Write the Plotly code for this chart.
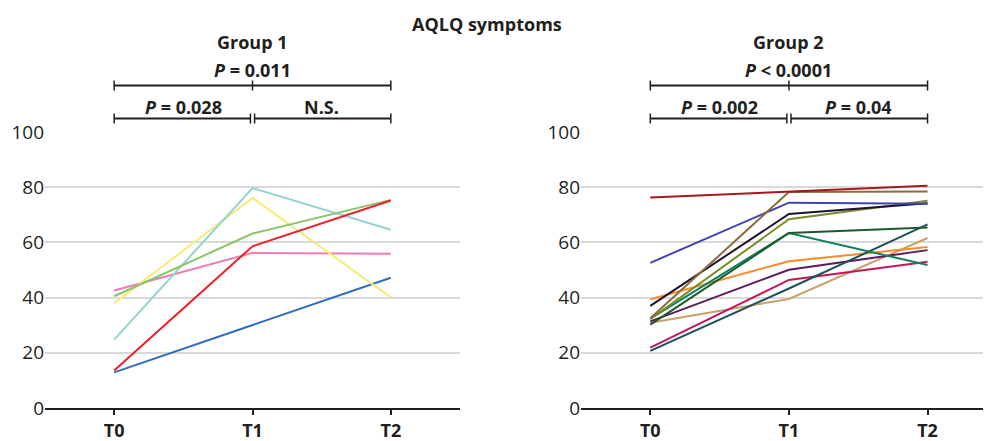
import plotly.graph_objects as go

timepoints = ["T0", "T1", "T2"]

# Group 1 patients
g1_names = ["P1", "P2", "P3", "P4", "P5", "P6"]
g1_values = [
    [12.9, 30.0, 47.2],
    [42.6, 56.2, 55.9],
    [38.0, 76.1, 40.1],
    [24.8, 79.7, 64.6],
    [40.5, 63.2, 75.4],
    [13.6, 58.6, 75.2],
]
g1_colors = ["#2f6ebe", "#f07cb4", "#f5ec78", "#93d3d0", "#8cc46a", "#ee2026"]

# Group 2 patients
g2_names = ["Q1", "Q2", "Q3", "Q4", "Q5", "Q6", "Q7", "Q8", "Q9", "Q10", "Q11", "Q12"]
g2_values = [
    [30.9, 39.5, 61.6],
    [21.9, 46.4, 53.0],
    [31.4, 50.1, 57.2],
    [39.4, 53.2, 58.3],
    [20.7, 43.3, 66.5],
    [32.4, 63.4, 51.8],
    [30.2, 63.4, 65.4],
    [32.2, 68.4, 75.1],
    [37.0, 70.3, 74.2],
    [52.6, 74.4, 74.0],
    [32.5, 78.3, 78.4],
    [76.3, 78.3, 80.5],
]
g2_colors = ["#c9a06c", "#c2185b", "#5c1a5e", "#ff8a2a", "#1f505c", "#108062",
             "#1b5a2c", "#7b8c2c", "#221232", "#4343b0", "#8c6c3a", "#a8171d"]

yticks = [0, 20, 40, 60, 80, 100]

FONT = "Open Sans"
DARK = "#231f20"
W, H = 984, 441

fig = go.Figure()
for name, vals, col in zip(g1_names, g1_values, g1_colors):
    fig.add_trace(go.Scatter(x=timepoints, y=vals, mode="lines", name=name,
                             line=dict(color=col, width=2), xaxis="x", yaxis="y",
                             showlegend=False))
for name, vals, col in zip(g2_names, g2_values, g2_colors):
    fig.add_trace(go.Scatter(x=timepoints, y=vals, mode="lines", name=name,
                             line=dict(color=col, width=2), xaxis="x2", yaxis="y2",
                             showlegend=False))

def py(pix):
    return 1 - pix / H

ydom = [py(408), py(132)]
xcommon = dict(type="category", categoryorder="array", categoryarray=timepoints,
               showline=True, linecolor=DARK, linewidth=2, ticks="outside",
               ticklen=5, tickwidth=1.5, tickcolor=DARK, showgrid=False,
               tickfont=dict(family=FONT, size=18, color=DARK, weight="bold"),
               zeroline=False, fixedrange=True, automargin=False)
ycommon = dict(range=[0, 100], tickvals=yticks, showgrid=True, gridcolor="#d9d9d9",
               gridwidth=2, zeroline=False, showline=False, ticks="",
               tickfont=dict(family=FONT, size=19, color=DARK), domain=ydom,
               automargin=False, fixedrange=True)

fig.update_layout(
    width=W, height=H, margin=dict(l=0, r=0, t=0, b=0, pad=0, autoexpand=False),
    paper_bgcolor="white", plot_bgcolor="white",
    xaxis=dict(domain=[45 / W, 460 / W], range=[-0.5, 2.5], anchor="y", **xcommon),
    yaxis=dict(anchor="x", **ycommon),
    xaxis2=dict(domain=[581 / W, 983 / W], range=[-0.5, 2.4], anchor="y2", **xcommon),
    yaxis2=dict(anchor="x2", **ycommon),
)

shapes = []
annotations = []

def bracket(xref, x0, x1, ypix):
    shapes.append(dict(type="line", xref=xref, yref="paper", x0=x0, x1=x1,
                       y0=py(ypix), y1=py(ypix), line=dict(color=DARK, width=2)))
    for xx in (x0, x1):
        shapes.append(dict(type="line", xref=xref, yref="paper", x0=xx, x1=xx,
                           y0=py(ypix - 5), y1=py(ypix + 5), line=dict(color=DARK, width=1.5)))

def label(xref, x, ypix, text):
    annotations.append(dict(xref=xref, yref="paper", x=x, y=py(ypix), text=text,
                            showarrow=False, xanchor="center", yanchor="middle",
                            font=dict(family=FONT, size=18, color=DARK)))

gap = 0.015
for xr, title, ptop, pleft, pright in [
    ("x", "Group 1", "<b><i>P</i> = 0.011</b>", "<b><i>P</i> = 0.028</b>", "<b>N.S.</b>"),
    ("x2", "Group 2", "<b><i>P</i> < 0.0001</b>", "<b><i>P</i> = 0.002</b>", "<b><i>P</i> = 0.04</b>"),
]:
    bracket(xr, 0, 2, 85.5)
    shapes.append(dict(type="line", xref=xr, yref="paper", x0=1, x1=1,
                       y0=py(80.5), y1=py(90.5), line=dict(color=DARK, width=1.5)))
    bracket(xr, 0, 1 - gap, 118.5)
    bracket(xr, 1 + gap, 2, 118.5)
    label(xr, 1, 42, "<b>" + title + "</b>")
    label(xr, 1, 70, ptop)
    label(xr, 0.5, 107, pleft)
    label(xr, 1.5, 107, pright)

annotations.append(dict(xref="paper", yref="paper", x=487 / W, y=py(24),
                        text="<b>AQLQ symptoms</b>", showarrow=False,
                        xanchor="center", yanchor="middle",
                        font=dict(family=FONT, size=18, color=DARK)))

fig.update_layout(shapes=shapes, annotations=annotations)
fig.write_html("out.html", config={"displayModeBar": False},
               post_script="document.body.style.margin='0';")
